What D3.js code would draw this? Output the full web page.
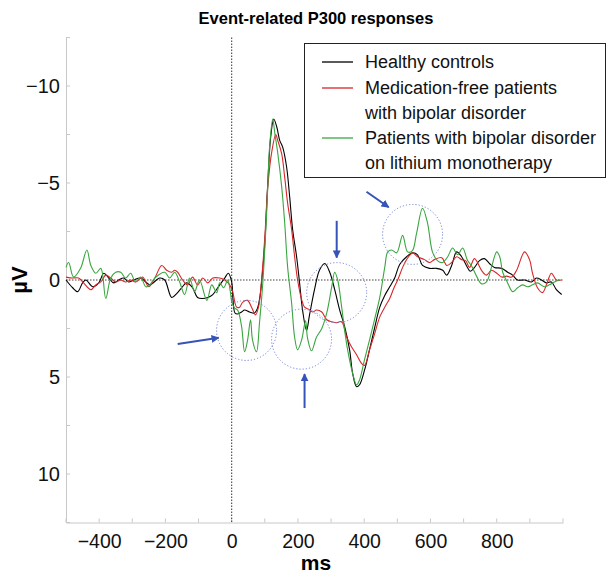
<!DOCTYPE html>
<html>
<head>
<meta charset="utf-8">
<script src="https://cdn.jsdelivr.net/npm/d3@7"></script>
<style>
  html, body { margin: 0; padding: 0; background: #fff; }
  svg { display: block; font-family: "Liberation Sans", Arial, sans-serif; }
</style>
</head>
<body>
<svg id="chart" width="616" height="574"></svg>
<script>
// ---------------- data (ms, µV) ----------------
const healthyControls = [[-500,0.0],[-480,0.4],[-465,0.6],[-450,0.15],[-440,0.0],[-419,0.35],[-401,0.15],[-386,-0.35],[-371,-0.1],[-356,0.15],[-341,0.0],[-326,-0.1],[-311,0.1],[-296,0.0],[-275,-0.1],[-259,0.1],[-247,0.25],[-217,-0.1],[-202,0.0],[-181,0.9],[-166,0.7],[-151,0.4],[-136,0.15],[-118,0.4],[-103,0.9],[-87,0.95],[-72,0.9],[-57,0.75],[-42,0.4],[-21,-0.1],[-10,-0.35],[0,0.1],[4,1.0],[10,1.7],[18,1.75],[30,1.65],[39,1.55],[54,1.65],[69,1.7],[78,1.45],[85,0.9],[91,0.0],[100,-1.9],[109,-5.0],[118,-7.4],[127,-8.3],[136,-7.9],[145,-7.2],[154,-6.85],[166,-5.8],[175,-4.3],[184,-2.6],[196,-1.2],[205,0.15],[214,1.55],[226,2.6],[235,1.8],[250,0.5],[265,-0.5],[281,-0.85],[296,-0.4],[311,0.5],[326,1.55],[341,2.4],[356,3.6],[365,4.8],[377,5.5],[386,5.4],[401,4.65],[416,3.6],[431,2.5],[447,1.4],[462,0.8],[477,0.35],[492,-0.1],[507,-0.8],[528,-1.2],[546,-1.4],[561,-1.3],[576,-0.75],[597,-0.6],[618,-0.6],[637,-0.5],[649,-0.25],[664,-0.75],[679,-1.45],[694,-1.2],[710,-0.7],[720,-0.45],[733,-0.65],[748,-1.0],[763,-1.1],[778,-0.85],[793,-0.65],[815,-0.6],[833,-0.4],[848,-0.25],[863,0.0],[884,0.0],[905,0.1],[920,-0.1],[935,0.0],[950,0.15],[965,0.1],[980,0.5],[996,0.75]];

const medicationFree = [[-500,-0.15],[-480,-0.1],[-462,-0.1],[-447,0.15],[-425,0.5],[-410,0.25],[-395,0.1],[-380,-0.25],[-365,-0.1],[-350,0.1],[-335,0.0],[-320,0.1],[-305,0.0],[-290,0.1],[-269,-0.15],[-250,0.35],[-232,-0.1],[-211,-0.75],[-196,-0.5],[-181,-0.4],[-172,-0.5],[-163,-0.4],[-148,0.0],[-133,0.25],[-118,-0.15],[-103,0.25],[-87,-0.1],[-72,0.15],[-57,-0.1],[-36,-0.1],[-21,0.0],[-6,0.25],[3,0.6],[15,1.4],[24,1.4],[33,1.15],[48,1.05],[60,1.4],[72,1.8],[81,1.4],[91,-0.15],[100,-2.2],[109,-4.8],[121,-6.6],[133,-7.5],[139,-7.2],[151,-6.5],[160,-5.3],[169,-3.95],[181,-2.6],[190,-1.2],[199,0.0],[211,1.0],[220,1.4],[232,1.5],[244,1.65],[256,1.55],[272,1.65],[287,2.05],[302,2.15],[317,2.2],[332,2.15],[347,2.95],[362,3.45],[377,3.85],[392,4.3],[401,4.4],[416,3.6],[431,2.8],[447,1.9],[462,1.4],[477,0.95],[490,0.4],[501,0.0],[516,-0.65],[528,-1.05],[546,-1.4],[561,-1.2],[582,-1.05],[597,-0.9],[612,-1.05],[634,-1.15],[649,-0.75],[664,-0.9],[679,-1.2],[694,-1.05],[706,-1.0],[718,-0.65],[733,-1.1],[754,-0.5],[769,-0.25],[784,-0.5],[800,-0.35],[815,-0.15],[830,-0.2],[845,-0.15],[860,-0.5],[884,-1.45],[899,-1.05],[908,-0.35],[923,0.4],[938,0.65],[950,0.25],[965,-0.35],[980,0.0],[995,0.0]];

const lithium = [[-500,-0.65],[-492,-0.9],[-477,-0.15],[-456,-0.6],[-437,-1.55],[-425,-0.75],[-410,-0.35],[-395,-0.6],[-380,0.95],[-365,-0.1],[-350,-0.4],[-335,-0.4],[-320,-0.1],[-305,-0.35],[-290,0.1],[-275,-0.15],[-259,0.35],[-247,0.25],[-232,-0.1],[-202,-0.4],[-187,-0.1],[-172,-0.4],[-157,0.1],[-142,0.75],[-127,-0.1],[-112,0.6],[-97,0.0],[-75,1.05],[-60,0.25],[-45,0.65],[-36,0.15],[-24,0.4],[-12,0.0],[-4,0.6],[0,1.1],[9,1.45],[18,1.55],[30,2.4],[39,3.7],[48,3.1],[57,2.05],[63,3.1],[75,3.7],[84,2.2],[94,0.15],[106,-3.6],[115,-7.0],[124,-8.3],[130,-7.6],[139,-6.55],[151,-4.8],[160,-2.95],[169,-0.65],[181,1.2],[190,2.95],[199,3.6],[211,3.1],[223,2.1],[229,3.0],[241,3.65],[256,2.95],[272,2.5],[287,1.7],[302,0.35],[311,-0.4],[320,0.0],[332,1.4],[341,2.6],[350,3.6],[365,4.8],[377,5.4],[386,5.15],[401,4.1],[416,3.1],[431,2.05],[447,0.9],[462,-0.65],[471,-1.45],[483,-1.55],[498,-1.4],[516,-2.3],[531,-1.45],[545,-1.5],[558,-2.4],[576,-3.7],[591,-2.95],[606,-1.45],[621,-1.0],[637,-0.9],[652,-1.2],[667,-1.65],[682,-1.3],[697,-1.65],[712,-1.0],[725,-0.7],[739,-0.2],[754,0.2],[769,0.1],[784,-0.65],[800,-1.45],[809,-1.2],[818,-0.4],[833,0.15],[848,0.6],[863,0.4],[878,0.25],[893,0.35],[908,0.25],[923,0.15],[944,0.35],[959,0.25],[974,0.1],[990,0.0]];

const seriesNames = ["Healthy controls", "Medication-free patients\nwith bipolar disorder", "Patients with bipolar disorder\non lithium monotherapy"];
const xTicks = [-400, -200, 0, 200, 400, 600, 800];
const yTicks = [-10, -5, 0, 5, 10];
const xMinorTicks = d3.range(-500, 1001, 100);
const yMinorTicks = d3.range(-12.5, 12.6, 2.5);
// annotation highlights: circle centres (ms, µV)
const highlightCentres = [[45, 2.6], [211, 3.05], [317, 0.65], [546, -2.35]];
// arrows: [fromMs, fromUv, toMs, toUv]
const arrowSegments = [[-163, 3.3, -39, 2.98], [220, 6.6, 220, 4.85], [317, -3.05, 317, -1.15], [407, -4.55, 474, -3.75]];

// ---------------- layout ----------------
const svg = d3.select("#chart");
const colors = ["#000000", "#d8262a", "#3aa640"];
const x = d3.scaleLinear().domain([-500, 1000]).range([66, 563]);
const y = d3.scaleLinear().domain([-12.5, 12.5]).range([37.5, 522.5]);
const fmt = d => d < 0 ? "\u2212" + Math.abs(d) : String(d);

svg.append("text").attr("x", 316).attr("y", 24).attr("text-anchor", "middle")
  .attr("font-weight", "bold").attr("font-size", 16.5).text("Event-related P300 responses");

// axes lines
const axisColor = "#c8c8c8";
const xAxis = svg.append("g").attr("transform", `translate(0,${y(12.5)})`)
  .call(d3.axisBottom(x).tickValues(xTicks).tickFormat(fmt).tickSize(0).tickPadding(12));
xAxis.select(".domain").attr("stroke", axisColor);
xAxis.selectAll("text").attr("font-size", 19.5).attr("fill", "#111").attr("font-family", "Liberation Sans, Arial, sans-serif");

const yAxis = svg.append("g").attr("transform", `translate(${x(-500)},0)`)
  .call(d3.axisLeft(y).tickValues(yTicks).tickFormat(fmt).tickSize(0).tickPadding(6));
yAxis.select(".domain").attr("stroke", axisColor);
yAxis.selectAll("text").attr("font-size", 20).attr("fill", "#111").attr("font-family", "Liberation Sans, Arial, sans-serif");

// minor ticks (inward)
svg.append("g").selectAll("line").data(xMinorTicks).join("line")
  .attr("x1", d => x(d)).attr("x2", d => x(d)).attr("y1", y(12.5)).attr("y2", y(12.5) - 4)
  .attr("stroke", axisColor);
svg.append("g").selectAll("line").data(yMinorTicks).join("line")
  .attr("x1", x(-500)).attr("x2", x(-500) + 4).attr("y1", d => y(d)).attr("y2", d => y(d))
  .attr("stroke", axisColor);

// axis titles
svg.append("text").attr("x", 316).attr("y", 570).attr("text-anchor", "middle")
  .attr("font-weight", "bold").attr("font-size", 21).text("ms");
svg.append("text").attr("transform", `translate(27,${y(0)}) rotate(-90)`).attr("text-anchor", "middle")
  .attr("font-weight", "bold").attr("font-size", 22).text("µV");

// dotted reference lines
svg.append("line").attr("x1", x(-500)).attr("x2", x(1000)).attr("y1", y(0)).attr("y2", y(0))
  .attr("stroke", "#444").attr("stroke-width", 1.1).attr("stroke-dasharray", "1.5,1.5");
svg.append("line").attr("x1", x(0)).attr("x2", x(0)).attr("y1", y(-12.5)).attr("y2", y(12.5))
  .attr("stroke", "#444").attr("stroke-width", 1.1).attr("stroke-dasharray", "1.5,1.5");

// series
const line = d3.line().x(d => x(d[0])).y(d => y(d[1])).curve(d3.curveCatmullRom.alpha(0.5));
[healthyControls, medicationFree, lithium].forEach((s, i) => {
  svg.append("path").datum(s).attr("d", line).attr("fill", "none")
    .attr("stroke", colors[i]).attr("stroke-width", 1.1).attr("stroke-linejoin", "round");
});

// annotation circles
svg.append("g").selectAll("circle").data(highlightCentres).join("circle")
  .attr("cx", d => x(d[0])).attr("cy", d => y(d[1])).attr("r", 30)
  .attr("fill", "none").attr("stroke", "#6f82d6").attr("stroke-width", 1).attr("stroke-dasharray", "1.2,2");

// arrows
svg.append("defs").append("marker").attr("id", "ah").attr("viewBox", "0 0 10 10")
  .attr("refX", 9).attr("refY", 5).attr("markerWidth", 4).attr("markerHeight", 4).attr("orient", "auto")
  .append("path").attr("d", "M0,0 L10,5 L0,10 z").attr("fill", "#3553b8");
svg.append("g").selectAll("line").data(arrowSegments).join("line")
  .attr("x1", d => x(d[0])).attr("y1", d => y(d[1])).attr("x2", d => x(d[2])).attr("y2", d => y(d[3]))
  .attr("stroke", "#3553b8").attr("stroke-width", 2).attr("marker-end", "url(#ah)");

// legend
const lg = svg.append("g");
lg.append("rect").attr("x", 304.5).attr("y", 43.5).attr("width", 301).attr("height", 134)
  .attr("fill", "#fff").attr("stroke", "#222").attr("stroke-width", 1);
const rowY = [62, 88, 138];
seriesNames.forEach((name, i) => {
  lg.append("line").attr("x1", 322).attr("x2", 353).attr("y1", rowY[i]).attr("y2", rowY[i])
    .attr("stroke", colors[i]).attr("stroke-width", 1.3);
  name.split("\n").forEach((t, j) => {
    lg.append("text").attr("x", 365).attr("y", rowY[i] + 6 + j * 24.5)
      .attr("font-size", 18).attr("fill", "#111").text(t);
  });
});
</script>
</body>
</html>
